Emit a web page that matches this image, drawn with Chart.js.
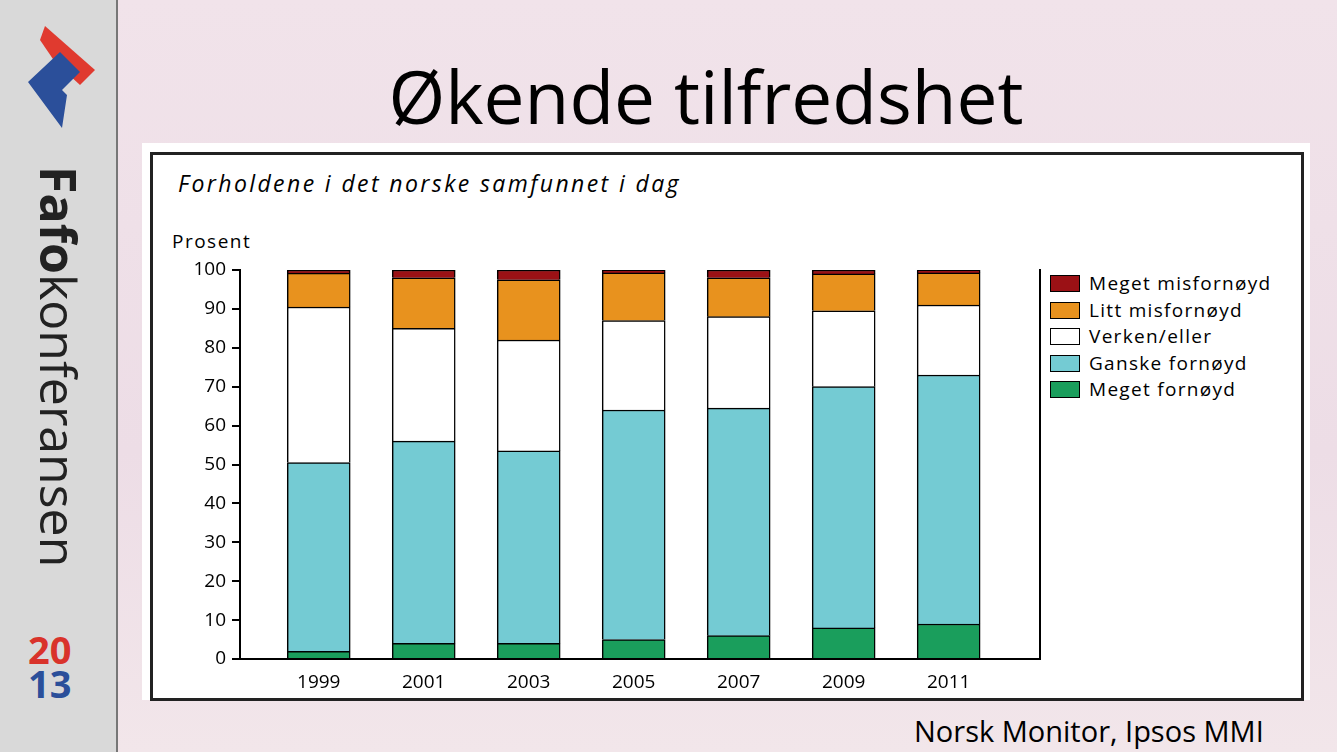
<!DOCTYPE html>
<html>
<head>
<meta charset="utf-8">
<script src="https://cdn.jsdelivr.net/npm/chart.js@4"></script>
<style>
  body { margin:0; width:1337px; height:752px; overflow:hidden; font-family:"Open Sans", "DejaVu Sans", sans-serif;
    background: linear-gradient(180deg, #f1e3ea 0%, #eddde6 60%, #f2e6ea 100%); position:relative; }
  #side { position:absolute; left:0; top:0; width:116px; height:752px; background:#d9d9d9; border-right:2px solid #777; }
  #brand { position:absolute; left:60px; top:166px; transform-origin:left top; transform:rotate(90deg) translate(0,-24px);
    font-size:50px; white-space:nowrap; color:#222; line-height:1; }
  #year { position:absolute; left:28px; top:632px; font-size:38px; font-weight:bold; line-height:34px; }
  #title { position:absolute; left:0; width:1412px; top:46px; text-align:center; font-size:73px; color:#000; }
  #panel { position:absolute; left:142px; top:143px; width:1168px; height:557px; background:#fff; }
  #frame { position:absolute; left:150px; top:152px; width:1148px; height:543px; border:3px solid #222; }
  #sub { position:absolute; left:178px; top:167px; font-size:23px; font-style:italic; letter-spacing:2.4px; }
  #unit { position:absolute; left:172px; top:228px; font-size:19px; letter-spacing:1.5px; }
  #wrap { position:absolute; left:150px; top:250px; width:900px; height:445px; }
  .lg { position:absolute; left:1050px; font-size:19px; letter-spacing:1.3px; }
  .lg span { display:inline-block; width:28px; height:15px; border:1.5px solid #000; vertical-align:-2px; margin-right:9px; }
  #src { position:absolute; left:914px; top:711px; font-size:29px; }
</style>
</head>
<body>
<div id="side">
  <svg width="116" height="140" style="position:absolute;left:0;top:0">
    <polygon points="45,26 95,70 80,85 55,62 40,40" fill="#e03a2f"/>
    <polygon points="28,82 60,52 80,72 62,90 67,95 62,128" fill="#2b4f9a"/>
  </svg>
  <div id="brand"><b>Fafo</b>konferansen</div>
  <div id="year"><span style="color:#d9332b">20</span><br><span style="color:#2b4f9a">13</span></div>
</div>
<div id="title">Økende tilfredshet</div>
<div id="panel"></div>
<div id="frame"></div>
<div id="sub">Forholdene i det norske samfunnet i dag</div>
<div id="unit">Prosent</div>
<div id="wrap"><canvas id="c"></canvas></div>
<div id="legend"></div>
<div id="src">Norsk Monitor, Ipsos MMI</div>
<script>
const years = ["1999", "2001", "2003", "2005", "2007", "2009", "2011"];
const yTicks = [0, 10, 20, 30, 40, 50, 60, 70, 80, 90, 100];
const seriesNames = ["Meget fornøyd", "Ganske fornøyd", "Verken/eller", "Litt misfornøyd", "Meget misfornøyd"];
const seriesColors = ["#1a9e5c", "#74cbd3", "#ffffff", "#e8921e", "#9b1115"];
const megetFornoyd = [2, 4, 4, 5, 6, 8, 9];
const ganskeFornoyd = [48.5, 52, 49.5, 59, 58.5, 62, 64];
const verkenEller = [40, 29, 28.5, 23, 23.5, 19.5, 18];
const littMisfornoyd = [8.7, 13, 15.5, 12.3, 10, 9.5, 8.3];
const megetMisfornoyd = [0.8, 2, 2.5, 0.7, 2, 1, 0.7];
const seriesData = [megetFornoyd, ganskeFornoyd, verkenEller, littMisfornoyd, megetMisfornoyd];

const legendTops = [270, 297, 323, 350, 376];
const lg = document.getElementById('legend');
for (let i = 4; i >= 0; i--) {
  const d = document.createElement('div');
  d.className = 'lg';
  d.style.top = legendTops[4 - i] + 'px';
  d.innerHTML = '<span style="background:' + seriesColors[i] + '"></span>' + seriesNames[i];
  lg.appendChild(d);
}

new Chart(document.getElementById('c'), {
  type: 'bar',
  data: {
    datasets: seriesData.map((v, i) => ({
      label: seriesNames[i], data: v.map((y, k) => ({ x: k, y: y })), backgroundColor: seriesColors[i],
      borderColor: '#000', borderWidth: 1.5, barThickness: 63
    }))
  },
  options: {
    responsive: true, maintainAspectRatio: false, animation: false,
    layout: { padding: { top: 20, right: 10, left: 0, bottom: 0 } },
    plugins: { legend: { display: false }, tooltip: { enabled: false } },
    scales: {
      x: {
        type: 'linear', stacked: true, min: -0.75, max: 6.87, offset: false,
        afterBuildTicks: s => { s.ticks = years.map((y, k) => ({ value: k })); },
        grid: { display: false },
        border: { color: '#000', width: 2 },
        ticks: { color: '#000', font: { size: 19, family: 'Open Sans' }, padding: 4, callback: v => years[v] },
        afterFit: s => { s.height = 36; }
      },
      y: {
        stacked: true, min: 0, max: 100,
        afterBuildTicks: s => { s.ticks = yTicks.map(v => ({ value: v })); },
        grid: { drawOnChartArea: false, tickLength: 8, color: '#000', lineWidth: 2 },
        border: { color: '#000', width: 2 },
        ticks: { color: '#000', font: { size: 19, family: 'Open Sans' }, padding: 6 },
        afterFit: s => { s.width = 90; }
      },
      y2: {
        position: 'right', min: 0, max: 100,
        grid: { display: false },
        border: { color: '#000', width: 2 },
        ticks: { display: false },
        afterFit: s => { s.width = 0; }
      }
    }
  }
});
</script>
</body>
</html>
